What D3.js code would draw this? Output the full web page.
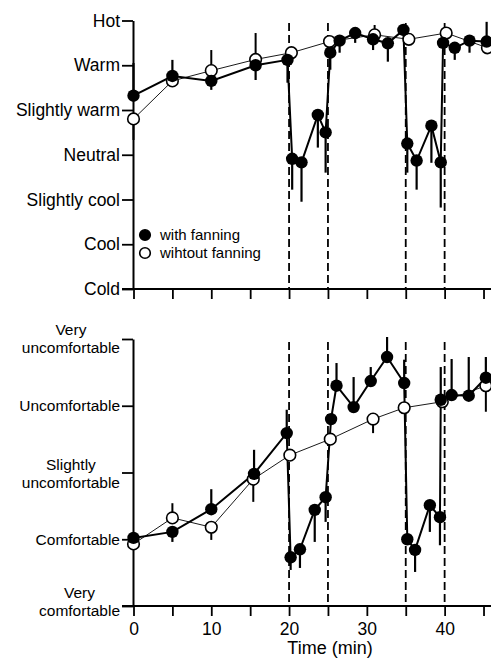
<!DOCTYPE html>
<html>
<head>
<meta charset="utf-8">
<script src="https://cdn.jsdelivr.net/npm/d3@7"></script>
<style>
  html, body { margin: 0; padding: 0; background: #fff; }
  svg { display: block; }
  text { font-family: "Liberation Sans", Arial, Helvetica, sans-serif; fill: #000; }
</style>
</head>
<body>
<svg id="chart" width="491" height="659"></svg>
<script>
// ---------------- data ----------------
const timeTicks = [0, 5, 10, 15, 20, 25, 30, 35, 40, 45];
const timeLabels = [0, 10, 20, 30, 40];
const fanSwitchTimes = [20, 25, 35, 40];

const thermalLevels = [-3, -2, -1, 0, 1, 2, 3];
const thermalLabels = ["Cold", "Cool", "Slightly cool", "Neutral", "Slightly warm", "Warm", "Hot"];

const comfortLevels = [0, 1, 2, 3, 4];
const comfortLabels = ["Very\ncomfortable", "Comfortable", "Slightly\nuncomfortable", "Uncomfortable", "Very\nuncomfortable"];

const legendLabels = ["with fanning", "wihtout fanning"];

// thermal sensation, with fanning
const thermalFanT   = [0, 5, 10, 15.7, 19.8, 20.4, 21.6, 23.7, 24.7, 25.3, 26.5, 28.5, 30.8, 32.7, 34.7, 35.2, 36.4, 38.3, 39.5, 39.8, 41.3, 43.2, 45.4];
const thermalFanV   = [1.32, 1.76, 1.65, 2.0, 2.12, -0.09, -0.17, 0.89, 0.5, 2.28, 2.55, 2.72, 2.58, 2.49, 2.79, 0.25, -0.13, 0.65, -0.17, 2.5, 2.39, 2.55, 2.53];
const thermalFanErr = [2.05, 2.12, 1.45, 1.67, 1.61, -0.78, -1.05, 0.16, -0.40, 1.90, 2.28, 2.50, 2.34, 2.08, null, -0.40, -0.78, -0.18, -1.18, null, 2.12, 2.28, 2.97];
// thermal sensation, without fanning
const thermalOpenT   = [0, 5, 10, 15.7, 20.3, 25.2, 31, 35.4, 40.2, 45.5];
const thermalOpenV   = [0.80, 1.65, 1.88, 2.13, 2.28, 2.53, 2.68, 2.58, 2.72, 2.39];
const thermalOpenErr = [0.33, null, 2.34, 2.72, null, null, 2.90, null, null, null];

// comfort, with fanning
const comfortFanT   = [0, 5, 10, 15.5, 19.7, 20.2, 21.4, 23.3, 24.7, 25.4, 26.1, 28.3, 30.5, 32.6, 34.8, 35.2, 36.2, 38.1, 39.4, 39.5, 40.9, 43.1, 45.3];
const comfortFanV   = [1.02, 1.11, 1.45, 1.98, 2.59, 0.73, 0.85, 1.44, 1.63, 2.80, 3.30, 2.98, 3.37, 3.73, 3.34, 1.0, 0.84, 1.51, 1.33, 3.09, 3.16, 3.15, 3.42];
const comfortFanErr = [null, 0.96, 1.75, 2.34, 2.94, 0.54, 0.57, 0.96, 1.26, null, 3.64, 3.43, 3.58, 4.03, 3.69, null, 0.51, 1.11, 0.91, 3.58, 3.70, 3.73, 3.73];
// comfort, without fanning
const comfortOpenT   = [0, 5, 10, 15.4, 20.1, 25.3, 30.8, 34.8, 39.7, 45.3];
const comfortOpenV   = [0.93, 1.32, 1.18, 1.90, 2.26, 2.50, 2.80, 2.97, 3.06, 3.30];
const comfortOpenErr = [null, 1.54, 0.99, 1.56, null, null, 2.59, null, null, 2.91];

// ---------------- drawing ----------------
const svg = d3.select("#chart");
const x = d3.scaleLinear().domain([0, 46]).range([133.5, 491.3]);
const axisLeftX = 133;

function zip(t, v, e) { return t.map((d, i) => ({ t: d, v: v[i], e: e[i] })); }

function panel(opts) {
  const { y, levels, labels, fan, open, labelSize, showXLabels, dashTop, multiOffsets } = opts;
  const g = svg.append("g");

  // dashed fan switch lines
  g.selectAll("line.dash").data(fanSwitchTimes).enter().append("line")
    .attr("x1", d => x(d)).attr("x2", d => x(d))
    .attr("y1", dashTop).attr("y2", y.range()[0])
    .attr("stroke", "#000").attr("stroke-width", 1.8)
    .attr("stroke-dasharray", "8,4");

  // x axis
  const xAxis = d3.axisBottom(x).tickValues(timeTicks).tickSize(10).tickSizeOuter(0)
    .tickFormat(d => (showXLabels && timeLabels.includes(d)) ? d : "");
  const gx = g.append("g").attr("transform", `translate(0,${y.range()[0]})`).call(xAxis);
  gx.select(".domain").remove();
  gx.selectAll(".tick line").attr("stroke", "#000").attr("stroke-width", 1.8);
  gx.selectAll(".tick text").attr("font-size", 17.5).attr("dy", "0.9em")
    .style("font-family", "'Liberation Sans', Arial, sans-serif");
  g.append("line").attr("x1", 122).attr("x2", 491)
    .attr("y1", y.range()[0]).attr("y2", y.range()[0])
    .attr("stroke", "#000").attr("stroke-width", 2);

  // y axis
  const yAxis = d3.axisLeft(y).tickValues(levels).tickSize(11).tickSizeOuter(0)
    .tickPadding(2).tickFormat((d, i) => labels[i]);
  const gy = g.append("g").attr("transform", `translate(${axisLeftX},0)`).call(yAxis);
  gy.select(".domain").attr("stroke", "#000").attr("stroke-width", 2);
  gy.selectAll(".tick line").attr("stroke", "#000").attr("stroke-width", 1.8);
  gy.selectAll(".tick text").attr("font-size", labelSize)
    .style("font-family", "'Liberation Sans', Arial, sans-serif")
    .each(function (d, i) {
      const txt = labels[i];
      const el = d3.select(this);
      if (txt.indexOf("\n") >= 0) {
        const lines = txt.split("\n");
        el.text("");
        el.attr("text-anchor", "middle");
        const off = multiOffsets[i] || 0;
        // measure longest line
        const tmp = svg.append("text").attr("font-size", labelSize)
          .style("font-family", "'Liberation Sans', Arial, sans-serif").text(lines[1]);
        const w = tmp.node().getComputedTextLength();
        tmp.remove();
        const cx = -13 - w / 2;
        el.attr("x", cx).attr("dy", null);
        lines.forEach((ln, k) => {
          el.append("tspan").attr("x", cx)
            .attr("y", off + (k === 0 ? -9 : 9))
            .attr("dy", "0.35em").text(ln);
        });
      }
    });

  // series lines
  const line = d3.line().x(d => x(d.t)).y(d => y(d.v));
  g.append("path").datum(open).attr("d", line).attr("fill", "none")
    .attr("stroke", "#000").attr("stroke-width", 0.9);
  g.append("path").datum(fan).attr("d", line).attr("fill", "none")
    .attr("stroke", "#000").attr("stroke-width", 2);

  // error bars
  g.selectAll("line.eo").data(open.filter(d => d.e !== null)).enter().append("line")
    .attr("x1", d => x(d.t)).attr("x2", d => x(d.t))
    .attr("y1", d => y(d.v)).attr("y2", d => y(d.e))
    .attr("stroke", "#000").attr("stroke-width", 2);
  g.selectAll("line.ef").data(fan.filter(d => d.e !== null)).enter().append("line")
    .attr("x1", d => x(d.t)).attr("x2", d => x(d.t))
    .attr("y1", d => y(d.v)).attr("y2", d => y(d.e))
    .attr("stroke", "#000").attr("stroke-width", 2.2);

  // markers
  g.selectAll("circle.o").data(open).enter().append("circle")
    .attr("cx", d => x(d.t)).attr("cy", d => y(d.v)).attr("r", 5.8)
    .attr("fill", "#fff").attr("stroke", "#000").attr("stroke-width", 1.6);
  g.selectAll("circle.f").data(fan).enter().append("circle")
    .attr("cx", d => x(d.t)).attr("cy", d => y(d.v)).attr("r", 6.2)
    .attr("fill", "#000");
  return g;
}

// top panel: thermal sensation
const yTop = d3.scaleLinear().domain([-3, 3]).range([289, 20.5]);
panel({
  y: yTop, levels: thermalLevels, labels: thermalLabels,
  fan: zip(thermalFanT, thermalFanV, thermalFanErr),
  open: zip(thermalOpenT, thermalOpenV, thermalOpenErr),
  labelSize: 17.5, showXLabels: false, dashTop: 23, multiOffsets: []
});

// legend
const legend = svg.append("g");
legendLabels.forEach((lab, i) => {
  const cy = 235 + i * 18;
  legend.append("circle").attr("cx", 145).attr("cy", cy).attr("r", 5.3)
    .attr("fill", i === 0 ? "#000" : "#fff").attr("stroke", "#000").attr("stroke-width", 1.6);
  legend.append("text").attr("x", 160).attr("y", cy).attr("dy", "0.35em")
    .attr("font-size", 15).text(lab);
});

// bottom panel: comfort
const yBot = d3.scaleLinear().domain([0, 4]).range([606, 339]);
panel({
  y: yBot, levels: comfortLevels, labels: comfortLabels,
  fan: zip(comfortFanT, comfortFanV, comfortFanErr),
  open: zip(comfortOpenT, comfortOpenV, comfortOpenErr),
  labelSize: 15.5, showXLabels: true, dashTop: 342, multiOffsets: [-5, 0, 1, 0, -1]
});

svg.append("text").attr("x", 330).attr("y", 648).attr("dy", "0.35em")
  .attr("text-anchor", "middle").attr("font-size", 18).text("Time (min)");
</script>
</body>
</html>
